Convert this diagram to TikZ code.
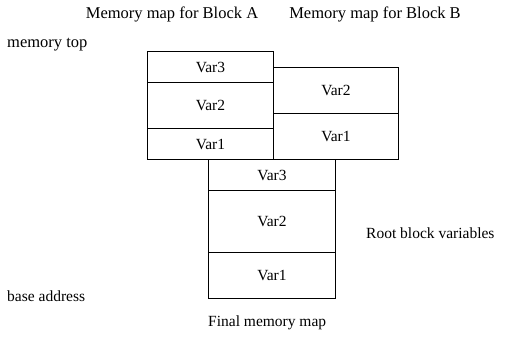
\documentclass[tikz,border=0pt]{standalone}
\usepackage{fontspec}
\setmainfont{Liberation Serif}
\begin{document}
\begin{tikzpicture}[x=1pt,y=-1pt,
  cell/.style={draw, line width=1pt, inner sep=0pt, anchor=north west, font=\fontsize{15.5}{18}\selectfont},
  lbl/.style={inner sep=0pt, font=\fontsize{15.5}{18}\selectfont},
  biglbl/.style={inner sep=0pt, font=\fontsize{16.5}{19}\selectfont}]
\useasboundingbox (0,0) rectangle (505,338);
% Block A
\node[cell, minimum width=126pt, minimum height=31pt] (a3) at (147,51) {Var3};
\node[cell, minimum width=126pt, minimum height=46pt] (a2) at (147,82) {Var2};
\node[cell, minimum width=126pt, minimum height=31pt] (a1) at (147,128) {Var1};
% Block B
\node[cell, minimum width=125pt, minimum height=46pt] (b2) at (273,67) {Var2};
\node[cell, minimum width=125pt, minimum height=46pt] (b1) at (273,113) {Var1};
% Final map
\node[cell, minimum width=127pt, minimum height=31pt] (f3) at (208,159) {Var3};
\node[cell, minimum width=127pt, minimum height=62pt] (f2) at (208,190) {Var2};
\node[cell, minimum width=127pt, minimum height=46pt] (f1) at (208,252) {Var1};
% Labels
\node[biglbl] (ta) at (172,14) {Memory map for Block A};
\node[biglbl] (tb) at (375,14) {Memory map for Block B};
\node[biglbl, anchor=west] (top) at (7,45) {memory top};
\node[lbl, anchor=west] (base) at (7,296) {base address};
\node[lbl, anchor=west] (root) at (366,233) {Root block variables};
\node[lbl, anchor=west] (fin) at (208,323) {Final memory map};
\end{tikzpicture}
\end{document}
